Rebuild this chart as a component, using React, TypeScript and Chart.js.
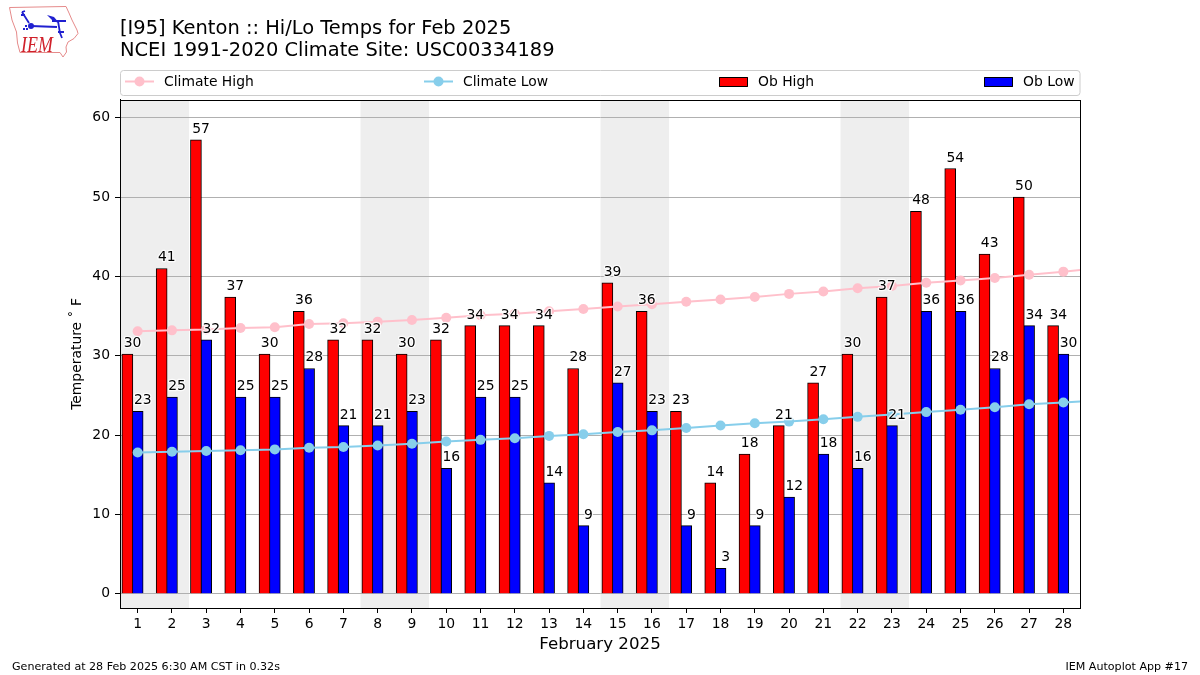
import React, { useEffect, useRef } from "react";
import { Chart, registerables } from "chart.js";

Chart.register(...registerables);

const days = [1,2,3,4,5,6,7,8,9,10,11,12,13,14,15,16,17,18,19,20,21,22,23,24,25,26,27,28];
const obHigh = [30.2,41,57.2,37.4,30.2,35.6,32,32,30.2,32,33.8,33.8,33.8,28.4,39.2,35.6,23,14,17.6,21.2,26.6,30.2,37.4,48.2,53.6,42.8,50,33.8];
const obLow = [23,24.8,32,24.8,24.8,28.4,21.2,21.2,23,15.8,24.8,24.8,14,8.6,26.6,23,8.6,3.2,8.6,12.2,17.6,15.8,21.2,35.6,35.6,28.4,33.8,30.2];
// one extra day past the axis end: the climate lines run off the right edge
const climateDays = [...days, 29];
const climateHigh = [33.1,33.2,33.3,33.5,33.6,34.0,34.1,34.3,34.5,34.8,35.1,35.3,35.6,35.9,36.2,36.5,36.8,37.1,37.4,37.8,38.1,38.5,38.8,39.2,39.5,39.8,40.2,40.6,41.0];
const climateLow = [17.8,17.9,18.0,18.1,18.2,18.4,18.5,18.7,18.9,19.2,19.4,19.6,19.9,20.1,20.4,20.6,20.9,21.2,21.5,21.7,22.0,22.3,22.6,22.9,23.2,23.5,23.9,24.1,24.4];
const weekendSpans = [[0.5,2.5],[7.5,9.5],[14.5,16.5],[21.5,23.5]];
const yTicks = [0,10,20,30,40,50,60];

const FONT = "'DejaVu Sans'";

const bandsPlugin = {
  id: "bands",
  beforeDraw(chart: any) {
    const { ctx, chartArea: a, scales: { x } } = chart;
    ctx.save();
    ctx.fillStyle = "#eeeeee";
    for (const [s, e] of weekendSpans) {
      const l = x.getPixelForValue(s);
      ctx.fillRect(l, a.top, x.getPixelForValue(e) - l, a.bottom - a.top);
    }
    ctx.restore();
  },
};

function drawLogo(ctx: CanvasRenderingContext2D) {
  ctx.save();
  ctx.strokeStyle = "#e58a8a";
  ctx.lineWidth = 1;
  ctx.beginPath();
  const outline = [[9.5,7.5],[66,6.5],[69,13],[72,20],[77,30],[78,33.5],[74,38.5],[68,42],[66,47],[66.5,52],[63,57],[60,52.5],[20,52.5],[17.5,43],[16.5,32],[12,20]];
  outline.forEach(([px, py], i) => (i ? ctx.lineTo(px, py) : ctx.moveTo(px, py)));
  ctx.closePath();
  ctx.stroke();
  ctx.fillStyle = "#d0202a";
  ctx.save();
  ctx.translate(21, 52);
  ctx.scale(0.78, 1);
  ctx.font = "italic 23px 'Liberation Serif'";
  ctx.textAlign = "left";
  ctx.textBaseline = "alphabetic";
  ctx.fillText("IEM", 0, 0);
  ctx.restore();
  ctx.strokeStyle = "#2020d0";
  ctx.fillStyle = "#2020d0";
  ctx.lineWidth = 1.8;
  ctx.beginPath();
  ctx.moveTo(31, 26); ctx.lineTo(57, 27);
  ctx.moveTo(22, 12); ctx.lineTo(29, 23);
  ctx.moveTo(22, 12); ctx.lineTo(25, 11);
  ctx.moveTo(21, 15); ctx.lineTo(25, 15);
  ctx.moveTo(52, 21); ctx.lineTo(66, 21);
  ctx.moveTo(58, 21); ctx.lineTo(60, 33);
  ctx.moveTo(60, 33); ctx.lineTo(62, 38);
  ctx.moveTo(58, 32); ctx.lineTo(64, 32);
  ctx.stroke();
  ctx.beginPath();
  ctx.arc(31, 26, 3, 0, Math.PI * 2);
  ctx.fill();
  ctx.beginPath();
  ctx.moveTo(47, 15); ctx.lineTo(54, 17); ctx.lineTo(59, 23); ctx.lineTo(53, 21);
  ctx.closePath();
  ctx.fill();
  ctx.fillRect(23, 28, 2, 2);
  ctx.fillRect(25, 25, 2, 2);
  ctx.fillRect(26, 28, 2, 2);
  ctx.restore();
}

const overlayPlugin = {
  id: "overlay",
  afterDraw(chart: any) {
    const { ctx, chartArea: a, scales: { x, y } } = chart;
    ctx.save();
    // spines
    ctx.strokeStyle = "#000";
    ctx.lineWidth = 1;
    ctx.strokeRect(Math.round(a.left) + 0.5, Math.round(a.top) + 0.5, Math.round(a.right - a.left), Math.round(a.bottom - a.top));

    // value labels with a thin white halo
    ctx.font = `13.9px ${FONT}`;
    ctx.textAlign = "center";
    ctx.textBaseline = "alphabetic";
    ctx.fillStyle = "#000";
    ctx.strokeStyle = "rgba(255,255,255,0.85)";
    ctx.lineWidth = 2.5;
    ctx.lineJoin = "round";
    const label = (d: number, v: number, off: number) => {
      const text = String(Math.round(v));
      const px = x.getPixelForValue(d + off);
      const py = y.getPixelForValue(v) - 7;
      ctx.strokeText(text, px, py);
      ctx.fillText(text, px, py);
    };
    days.forEach((d, i) => {
      label(d, obHigh[i], -0.15);
      label(d, obLow[i], 0.15);
    });

    // legend
    ctx.strokeStyle = "#cccccc";
    ctx.lineWidth = 1;
    ctx.beginPath();
    ctx.roundRect(120.5, 70.5, 959.5, 25, 3);
    ctx.stroke();
    ctx.textAlign = "left";
    ctx.textBaseline = "middle";
    const ds = chart.data.datasets;
    const lineLeft = [125, 424];
    [0, 1].forEach((k) => {
      ctx.strokeStyle = ds[k].borderColor;
      ctx.fillStyle = ds[k].borderColor;
      ctx.lineWidth = 2;
      ctx.beginPath();
      ctx.moveTo(lineLeft[k], 81.5);
      ctx.lineTo(lineLeft[k] + 29, 81.5);
      ctx.stroke();
      ctx.beginPath();
      ctx.arc(lineLeft[k] + 14.5, 81.5, 5, 0, Math.PI * 2);
      ctx.fill();
      ctx.fillStyle = "#000";
      ctx.fillText(ds[k].label, lineLeft[k] + 39, 82.5);
    });
    const patchLeft = [719, 984];
    [2, 3].forEach((k, j) => {
      ctx.fillStyle = ds[k].backgroundColor;
      ctx.fillRect(patchLeft[j], 77, 29, 10);
      ctx.strokeStyle = "#000";
      ctx.lineWidth = 1;
      ctx.strokeRect(patchLeft[j] + 0.5, 77.5, 28, 9);
      ctx.fillStyle = "#000";
      ctx.fillText(ds[k].label, patchLeft[j] + 39, 82.5);
    });

    // footer
    ctx.font = `11.1px ${FONT}`;
    ctx.textBaseline = "alphabetic";
    ctx.textAlign = "left";
    ctx.fillText("Generated at 28 Feb 2025 6:30 AM CST in 0.32s", 12, 670);
    ctx.textAlign = "right";
    ctx.fillText("IEM Autoplot App #17", 1188, 670);
    ctx.restore();

    drawLogo(ctx);
  },
};

export default function App() {
  const ref = useRef<HTMLCanvasElement>(null);
  useEffect(() => {
    document.body.style.margin = "0";
    const barWidth = 0.3 * (960 / 28) + 0.7;
    const chart = new Chart(ref.current!, {
      type: "bar",
      plugins: [bandsPlugin, overlayPlugin],
      data: {
        datasets: [
          {
            type: "line", label: "Climate High", order: 0,
            data: climateDays.map((d, i) => ({ x: d, y: climateHigh[i] })),
            borderColor: "pink", backgroundColor: "pink", borderWidth: 2,
            pointRadius: 5, pointBorderWidth: 0, pointBackgroundColor: "pink",
          },
          {
            type: "line", label: "Climate Low", order: 0,
            data: climateDays.map((d, i) => ({ x: d, y: climateLow[i] })),
            borderColor: "skyblue", backgroundColor: "skyblue", borderWidth: 2,
            pointRadius: 5, pointBorderWidth: 0, pointBackgroundColor: "skyblue",
          },
          {
            type: "bar", label: "Ob High", order: 1,
            data: days.map((d, i) => ({ x: d - 0.3, y: obHigh[i] })),
            backgroundColor: "#ff0000", borderColor: "#000", borderWidth: 1,
            barThickness: barWidth, grouped: false,
          },
          {
            type: "bar", label: "Ob Low", order: 1,
            data: days.map((d, i) => ({ x: d, y: obLow[i] })),
            backgroundColor: "#0000ff", borderColor: "#000", borderWidth: 1,
            barThickness: barWidth, grouped: false,
          },
        ],
      } as any,
      options: {
        responsive: false,
        animation: false,
        layout: { padding: { left: 0, right: 120, top: 0, bottom: 0 } },
        font: { family: FONT },
        plugins: {
          legend: { display: false },
          tooltip: { enabled: false },
          title: {
            display: true,
            fullSize: false,
            align: "start",
            color: "#000",
            text: ["[I95] Kenton :: Hi/Lo Temps for Feb 2025", "NCEI 1991-2020 Climate Site: USC00334189"],
            font: { family: FONT, size: 19.45, weight: "normal", lineHeight: 1.13 },
            padding: { top: 18, bottom: 38 },
          },
        },
        scales: {
          x: {
            type: "linear",
            min: 0.485,
            max: 28.485,
            offset: false,
            afterBuildTicks(s: any) { s.ticks = days.map((v) => ({ value: v })); },
            afterFit(s: any) { s.height = 67; },
            ticks: { autoSkip: false, maxRotation: 0, color: "#000", font: { family: FONT, size: 13.9 }, padding: 3, callback: (v: any) => String(v) },
            grid: { offset: false, drawOnChartArea: false, drawTicks: true, tickLength: 5, tickColor: "#000", color: "#000" },
            border: { color: "#000", width: 1 },
            title: { display: true, text: "February 2025", color: "#000", font: { family: FONT, size: 16.67 }, padding: { bottom: 20, top: 0 } },
          },
          y: {
            type: "linear",
            min: -1.79,
            max: 62.24,
            afterBuildTicks(s: any) { s.ticks = yTicks.map((v) => ({ value: v })); },
            afterFit(s: any) { s.width = 120; },
            ticks: { color: "#000", font: { family: FONT, size: 13.9 }, padding: 5, callback: (v: any) => String(v) },
            grid: { color: "#b0b0b0", lineWidth: 1, tickLength: 5, tickColor: "#000" },
            border: { color: "#000", width: 1 },
            title: { display: true, text: "Temperature \u02DA F", color: "#000", font: { family: FONT, size: 13.9 }, padding: { top: 69, bottom: 0 } },
          },
        },
      } as any,
    });
    return () => chart.destroy();
  }, []);
  return (
    <div style={{ width: 1200, height: 675 }}>
      <canvas ref={ref} width={1200} height={675} style={{ display: "block" }} />
    </div>
  );
}
